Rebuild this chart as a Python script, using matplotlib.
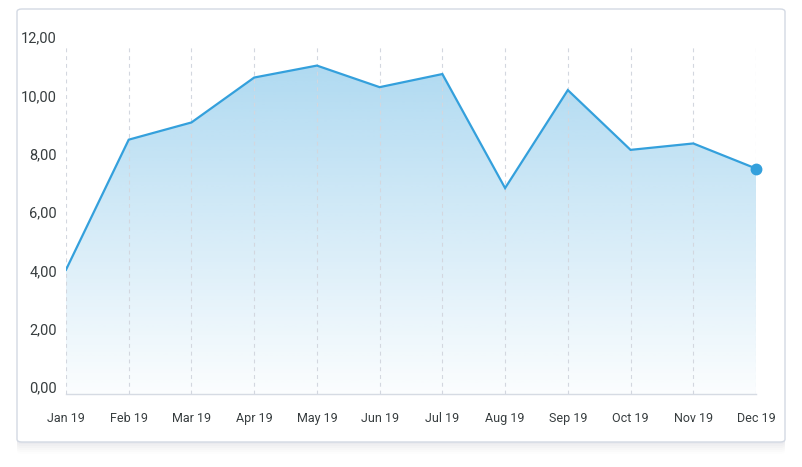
import numpy as np
import matplotlib
matplotlib.use('Agg')
import matplotlib.pyplot as plt
from matplotlib.patches import FancyBboxPatch, Polygon
from matplotlib.colors import to_rgb
from matplotlib.transforms import ScaledTranslation

plt.rcParams['font.family'] = ['Roboto', 'DejaVu Sans']

# 数据
months = ['Jan 19', 'Feb 19', 'Mar 19', 'Apr 19', 'May 19', 'Jun 19',
          'Jul 19', 'Aug 19', 'Sep 19', 'Oct 19', 'Nov 19', 'Dec 19']
values = [4.26, 8.72, 9.31, 10.85, 11.26, 10.52, 10.97, 7.06, 10.42, 8.37, 8.59, 7.73]
y_ticks = [0, 2, 4, 6, 8, 10, 12]

LINE = '#34a0dc'
TEXT = '#373d3f'
GRID = '#d3d7df'

W, H = 802, 467
fig = plt.figure(figsize=(W / 100, H / 100), dpi=100)
fig.patch.set_facecolor('white')

# 卡片阴影 + 边框
for i, a in enumerate([0.018, 0.016, 0.014, 0.012, 0.010, 0.008]):
    d = 2 + i * 2
    sh = FancyBboxPatch((17 / W, (H - 442 - d) / H), 768 / W, 433 / H,
                        boxstyle='round,pad=0,rounding_size=0.006',
                        transform=fig.transFigure, facecolor='#1a2a4a',
                        edgecolor='none', alpha=a, zorder=0)
    fig.patches.append(sh)
card = FancyBboxPatch((17 / W, (H - 442) / H), 768 / W, 433 / H,
                      boxstyle='round,pad=0,rounding_size=0.006',
                      transform=fig.transFigure, facecolor='white',
                      edgecolor='#d3d9e3', linewidth=1.0, zorder=1)
fig.patches.append(card)

ax = fig.add_axes([66 / W, 1 - 394 / H, 690 / W, 350 / H])
ax.set_facecolor('none')
ax.set_zorder(2)

x = np.arange(len(months))
y = np.array(values)

# 渐变填充
rgb = np.array(to_rgb(LINE))
n = 256
alpha = np.linspace(0.02, 0.39, n)[:, None]
img = np.ones((n, 1, 4))
img[:, :, :3] = rgb
img[:, :, 3] = alpha
im = ax.imshow(img, aspect='auto', origin='lower',
               extent=[x[0], x[-1], 0, y.max()], zorder=1, interpolation='bilinear')
poly = Polygon(np.vstack([[x[0], 0], np.column_stack([x, y]), [x[-1], 0]]),
               closed=True, facecolor='none', edgecolor='none')
ax.add_patch(poly)
im.set_clip_path(poly)

ax.plot(x, y, color=LINE, linewidth=1.6, zorder=3, solid_joinstyle='miter')
ax.plot(x[-1:], y[-1:], 'o', color=LINE, markersize=7.5, zorder=4, clip_on=False)

ax.set_xlim(x[0], x[-1])
ax.set_ylim(0, 12)
ax.set_xticks(x)
ax.set_xticklabels(months, fontsize=9, color=TEXT)
ax.set_yticks(y_ticks)
ax.set_yticklabels([f'{v:.2f}'.replace('.', ',') for v in y_ticks], fontsize=10.5, color=TEXT)
ax.tick_params(axis='both', length=0)
ax.tick_params(axis='x', pad=13)
ax.tick_params(axis='y', pad=6.5)
offset = ScaledTranslation(0, 7 / 100, fig.dpi_scale_trans)
for lab in ax.get_yticklabels():
    lab.set_transform(lab.get_transform() + offset)

ax.grid(axis='x', color=GRID, linestyle=(0, (3.5, 3.5)), linewidth=0.8, zorder=0)
ax.grid(axis='y', visible=False)
for s in ['left', 'right', 'top']:
    ax.spines[s].set_visible(False)
ax.spines['bottom'].set_color('#d6dbe3')
ax.spines['bottom'].set_linewidth(1.0)

fig.savefig('out.png', dpi=100)
